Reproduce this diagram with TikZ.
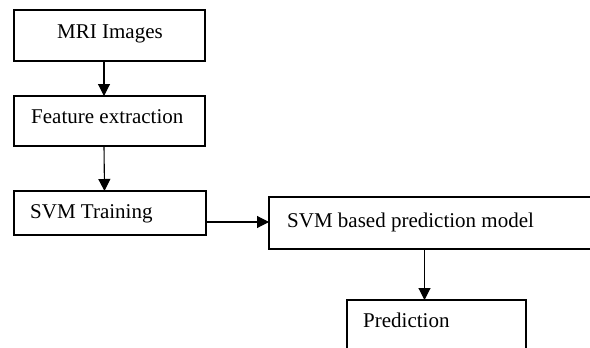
\documentclass[tikz,border=0pt]{standalone}
\usepackage{fontspec}
\setmainfont{Liberation Serif}
\usetikzlibrary{arrows.meta,calc}
\begin{document}
\begin{tikzpicture}[x=1pt,y=-1pt,
  box/.style={draw,line width=1.1pt,outer sep=0pt,inner sep=0pt,anchor=north west},
  txt/.style={anchor=base west,inner sep=0pt,font=\fontsize{21}{25}\selectfont},
  arr/.style={line width=1.1pt,-{Triangle[length=12pt,width=12pt]}}]
\useasboundingbox (0,0) rectangle (590,348);
\clip (0,0) rectangle (590,348);
\fill[white] (0,0) rectangle (590,348);
% boxes
\node[box,minimum width=191pt,minimum height=51pt] (mri) at (14,10) {};
\node[box,minimum width=191pt,minimum height=50pt] (feat) at (14,96) {};
\node[box,minimum width=192pt,minimum height=44pt] (train) at (14,191) {};
\node[box,minimum width=340pt,minimum height=52pt] (model) at (269,197) {};
\node[box,minimum width=179pt,minimum height=70pt] (pred) at (347,300) {};
% texts
\node[txt] (tmri) at (57,38) {MRI Images};
\node[txt] (tfeat) at (31,123) {Feature extraction};
\node[txt] (ttrain) at (30,218) {SVM Training};
\node[txt] (tmodel) at (287,227) {SVM based prediction model};
\node[txt] (tpred) at (363,327) {Prediction};
% connectors
\draw[arr] ([xshift=-5.5pt]mri.south) -- ([xshift=-5.5pt]feat.north);
\draw[arr] ([xshift=-5.5pt]feat.south) -- ([xshift=-5.5pt]train.north);
\draw[arr] (train.east |- 0,222) -- (model.west |- 0,222);
\draw[arr] ([xshift=-12pt]pred.north |- model.south) -- ([xshift=-12pt]pred.north);
\end{tikzpicture}
\end{document}
